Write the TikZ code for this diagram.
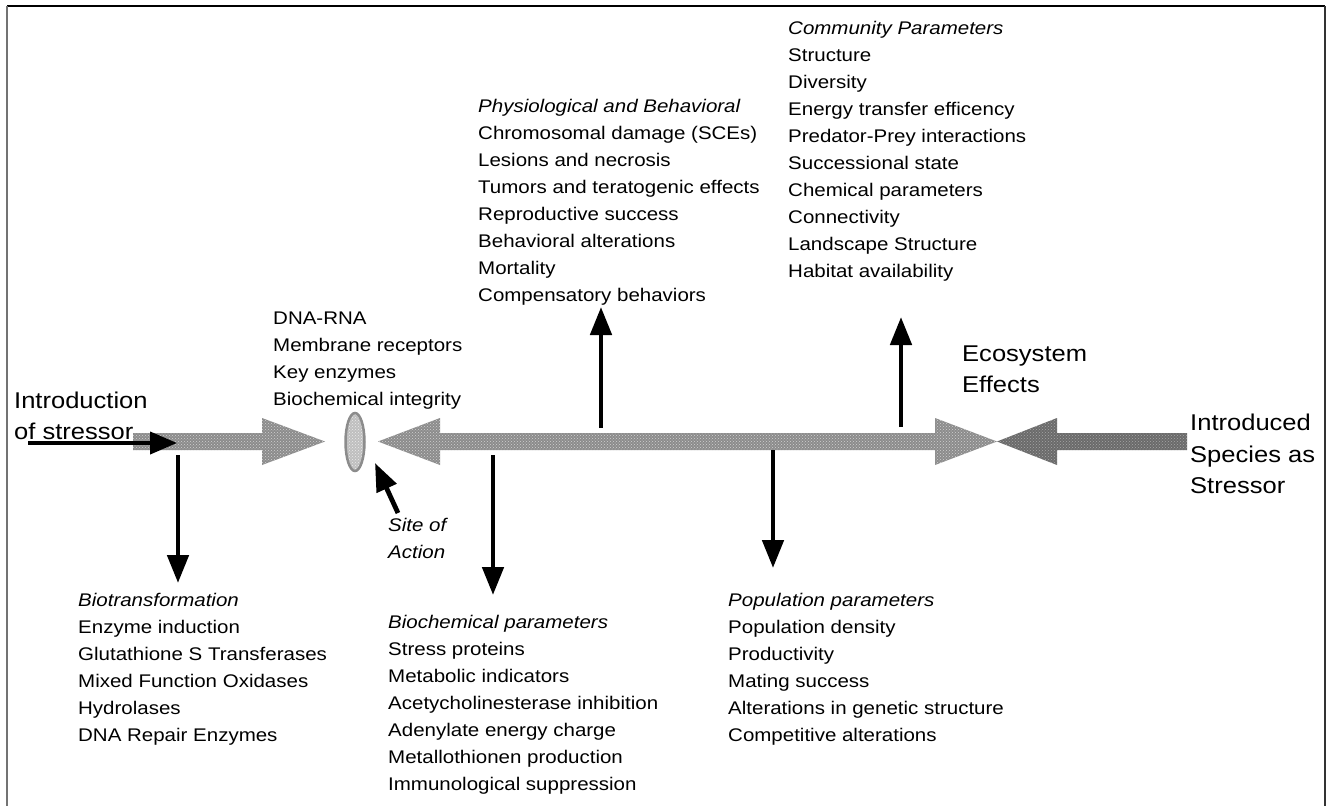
\documentclass[tikz,border=0pt]{standalone}
\usepackage{fontspec}
\setmainfont{Liberation Sans}[FakeStretch=1.12]
\usetikzlibrary{arrows.meta,patterns,shapes.geometric}

\begin{document}
\begin{tikzpicture}[x=1pt,y=-1pt,
  lst/.style={anchor=base west, inner sep=0pt, font=\fontsize{18.3}{20}\selectfont},
  ttl/.style={anchor=base west, inner sep=0pt, font=\fontsize{18.3}{20}\selectfont\itshape},
  big/.style={anchor=base west, inner sep=0pt, font=\fontsize{22.8}{28}\selectfont},
  ptr/.style={line width=4.8pt, -{Triangle[length=28pt,width=21pt]}},
  shaftlight/.style={draw=none, preaction={fill=black!45}, pattern=crosshatch dots, pattern color=black!18},
  shaftdark/.style={draw=none, preaction={fill=black!58}, pattern=crosshatch dots, pattern color=black!35}
]
\useasboundingbox (0,0) rectangle (1334,806);

% frame
\draw[line width=1.5pt] (7,6) -- (1325,6);
\draw[line width=1.5pt, black!55] (7,6) -- (7,806);
\draw[line width=1.5pt, black!80] (1325,6) -- (1325,806);

% main stressor pathway
\fill[shaftlight] (133,433) -- (262,433) -- (262,418) -- (325,441.5) -- (262,465) -- (262,450) -- (133,450) -- cycle;
\fill[shaftlight] (378,441.5) -- (440,418) -- (440,433) -- (935,433) -- (935,418) -- (997,441.5)
  -- (935,465) -- (935,450) -- (440,450) -- (440,465) -- cycle;
\fill[shaftdark] (997,441.5) -- (1057,418) -- (1057,433) -- (1187,433) -- (1187,450) -- (1057,450) -- (1057,465) -- cycle;

% site of action
\node[ellipse, minimum width=19pt, minimum height=58pt, inner sep=0pt, line width=2.5pt, draw=black!45,
  preaction={fill=black!25}, pattern=crosshatch dots, pattern color=black!8] (site) at (355,442) {};

% large labels
\node[big] (intro1) at (14,408) {Introduction};
\node[big] (intro2) at (14,439) {of stressor};
\node[big] (eco1) at (962,361) {Ecosystem};
\node[big] (eco2) at (962,392) {Effects};
\node[big] (sp1) at (1190,430) {Introduced};
\node[big] (sp2) at (1190,462) {Species as};
\node[big] (sp3) at (1190,493) {Stressor};

% site targets
\foreach \t [count=\i from 0] in {DNA-RNA, Membrane receptors, Key enzymes, Biochemical integrity}
  \node[lst] (tgt\i) at (273,{324+27*\i}) {\t};

% site of action label
\node[ttl] (soa1) at (388,531) {Site of};
\node[ttl] (soa2) at (388,558) {Action};

% biotransformation
\node[ttl] (bio) at (78,606) {Biotransformation};
\foreach \t [count=\i] in {Enzyme induction, Glutathione S Transferases, Mixed Function Oxidases, Hydrolases, DNA Repair Enzymes}
  \node[lst] (bio\i) at (78,{606+27*\i}) {\t};

% biochemical parameters
\node[ttl] (bch) at (388,628) {Biochemical parameters};
\foreach \t [count=\i] in {Stress proteins, Metabolic indicators, Acetycholinesterase inhibition, Adenylate energy charge, Metallothionen production, Immunological suppression}
  \node[lst] (bch\i) at (388,{628+27*\i}) {\t};

% population parameters
\node[ttl] (pop) at (728,606) {Population parameters};
\foreach \t [count=\i] in {Population density, Productivity, Mating success, Alterations in genetic structure, Competitive alterations}
  \node[lst] (pop\i) at (728,{606+27*\i}) {\t};

% physiological and behavioral
\node[ttl] (phy) at (478,112) {Physiological and Behavioral};
\foreach \t [count=\i] in {Chromosomal damage (SCEs), Lesions and necrosis, Tumors and teratogenic effects, Reproductive success, Behavioral alterations, Mortality, Compensatory behaviors}
  \node[lst] (phy\i) at (478,{112+27*\i}) {\t};

% community parameters
\node[ttl] (com) at (788,34) {Community Parameters};
\foreach \t [count=\i] in {Structure, Diversity, Energy transfer efficency, Predator-Prey interactions, Successional state, Chemical parameters, Connectivity, Landscape Structure, Habitat availability}
  \node[lst] (com\i) at (788,{34+27*\i}) {\t};

% connector end points
\coordinate (in0) at (28,443);
\coordinate (in1) at (177,443);
\coordinate (b0) at (178,455);
\coordinate (b1) at (178,583);
\coordinate (c0) at (493,455);
\coordinate (c1) at (493,595);
\coordinate (p0) at (601,428);
\coordinate (p1) at (601,307);
\coordinate (q0) at (773,450);
\coordinate (q1) at (773,568);
\coordinate (r0) at (901,427);
\coordinate (r1) at (901,317);
\coordinate (s0) at (398,513);
\coordinate (s1) at (375,463);

\draw[line width=4pt, -{Triangle[length=27pt,width=22pt]}] (in0) -- (in1);
\draw[ptr] (b0) -- (b1);
\draw[ptr] (c0) -- (c1);
\draw[ptr] (p0) -- (p1);
\draw[ptr] (q0) -- (q1);
\draw[ptr] (r0) -- (r1);
\draw[ptr] (s0) -- (s1);
\end{tikzpicture}
\end{document}
